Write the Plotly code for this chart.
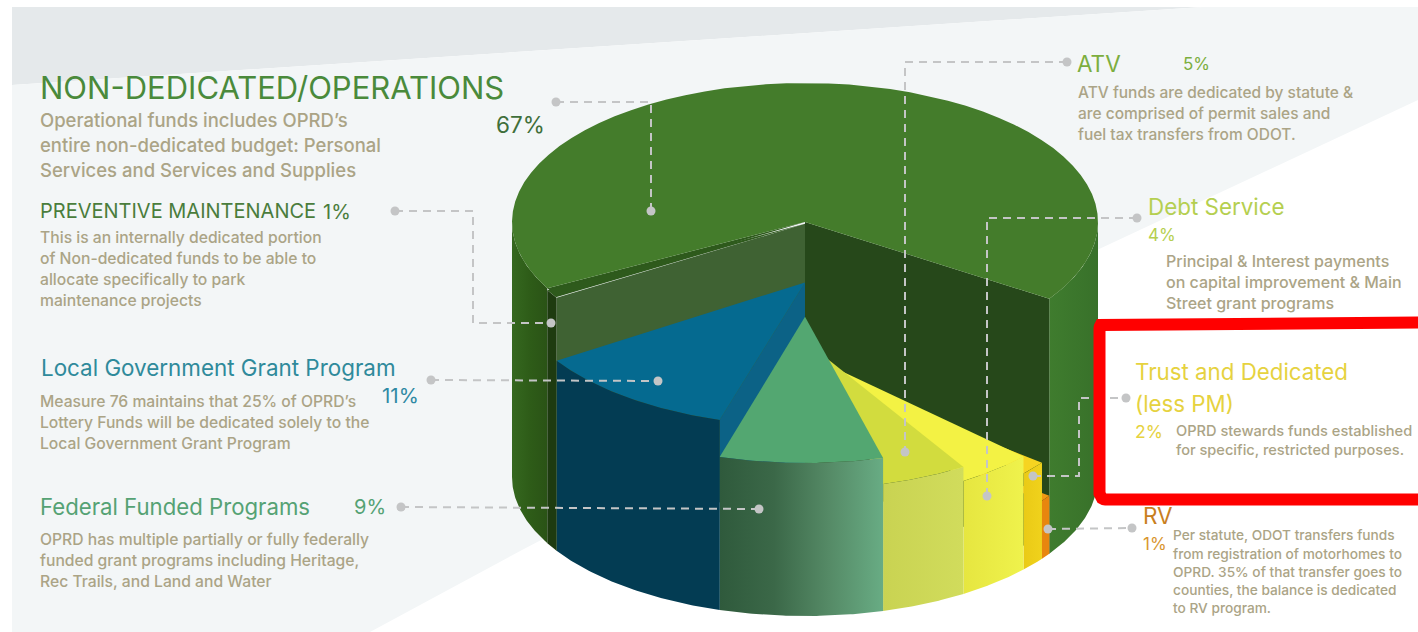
import numpy as np
import plotly.graph_objects as go

# ---- data ----
slice_names = ["RV", "Trust and Dedicated", "Debt Service", "ATV", "Federal Funded Programs",
               "Local Government Grant Program", "Preventive Maintenance", "Non-Dedicated/Operations"]
slice_shares = [0.7, 1.6, 4.3, 4.8, 9.0, 11.4, 1.0, 67.2]
slice_drops = [197, 159, 142, 128, 102, 65, 2, 0]
top_colors = ["#f29a14", "#f6d421", "#f3f244", "#d2dc3e", "#53a771", "#056a90", "#2e5a1c", "#447c2b"]
front_colors = [("#e8860e", "#e8860e"), ("#f0d21c", "#eaca16"), ("#eff24c", "#e6e640"),
                ("#d1dc5c", "#c9d352"), ("#2f5a3c", "#68ac84"), ("#033c53", "#033c53"),
                ("#1e3b10", "#1e3b10"), ("#447c2b", "#447c2b")]

FONT = "Inter"
BODY = "#aba486"
B1, B2, B3, B4 = 15.7, 15.5, 16.0, 14.6
B5 = 13.7
# (text, x, y, size, colour)
labels = [
    ("NON-DEDICATED/OPERATIONS", 40, 87, 31, "#4a8a3b"),
    ("Operational funds includes OPRD’s", 40, 120, 18.5, BODY),
    ("entire non-dedicated budget: Personal", 40, 145, 18.5, BODY),
    ("Services and Services and Supplies", 40, 170, 18.5, BODY),
    ("67%", 496, 124, 22.5, "#3f6f3a"),
    ("PREVENTIVE MAINTENANCE", 40, 211, 20, "#4a7d3c"),
    ("1%", 323, 212, 20, "#4a7d3c"),
    ("This is an internally dedicated portion", 40, 237, B1, BODY),
    ("of Non-dedicated funds to be able to", 40, 258, B1, BODY),
    ("allocate specifically to park", 40, 279, B1, BODY),
    ("maintenance projects", 40, 300, B1, BODY),
    ("Local Government Grant Program", 41, 367, 22.4, "#2f8a9b"),
    ("11%", 382, 395, 20.5, "#2f89a3"),
    ("Measure 76 maintains that 25% of OPRD’s", 40, 401, B1, BODY),
    ("Lottery Funds will be dedicated solely to the", 40, 422, B1, BODY),
    ("Local Government Grant Program", 40, 443, B1, BODY),
    ("Federal Funded Programs", 40, 506, 22.2, "#55a274"),
    ("9%", 354, 507, 20, "#55a274"),
    ("OPRD has multiple partially or fully federally", 40, 539, B1, BODY),
    ("funded grant programs including Heritage,", 40, 560, B1, BODY),
    ("Rec Trails, and Land and Water", 40, 581, B1, BODY),
    ("ATV", 1077, 63, 22.5, "#7cae3e"),
    ("5%", 1183, 64, 17, "#7cae3e"),
    ("ATV funds are dedicated by statute &", 1078, 92, B2, BODY),
    ("are comprised of permit sales and", 1078, 113, B2, BODY),
    ("fuel tax transfers from ODOT.", 1078, 134, B2, BODY),
    ("Debt Service", 1148, 206, 22.4, "#b5cf50"),
    ("4%", 1148, 235, 17, "#b5cf50"),
    ("Principal & Interest payments", 1166, 261, B3, BODY),
    ("on capital improvement & Main", 1166, 282, B3, BODY),
    ("Street grant programs", 1166, 303, B3, BODY),
    ("Trust and Dedicated", 1135, 371, 22.3, "#e6d23f"),
    ("(less PM)", 1135, 403, 22.3, "#e6d23f"),
    ("2%", 1135, 431, 17.5, "#e6d23f"),
    ("OPRD stewards funds established", 1176, 431, B4, BODY),
    ("for specific, restricted purposes.", 1176, 450, B4, BODY),
    ("RV", 1143, 515, 22.5, "#c9801f"),
    ("1%", 1143, 544, 17, "#d9962f"),
    ("Per statute, ODOT transfers funds", 1173, 535, B5, BODY),
    ("from registration of motorhomes to", 1173, 554, B5, BODY),
    ("OPRD. 35% of that transfer goes to", 1173, 572, B5, BODY),
    ("counties, the balance is dedicated", 1173, 590, B5, BODY),
    ("to RV program.", 1173, 608, B5, BODY),
]

# dashed leader lines (x list, y list)
leaders = [
    ([556, 651, 651], [102, 102, 211]),
    ([395, 473, 473, 551], [211, 211, 323, 323]),
    ([431, 658], [380, 381]),
    ([401, 759], [507, 509]),
    ([1067, 905, 905], [62, 62, 452]),
    ([1137, 987, 987], [218, 218, 496]),
    ([1033, 1079, 1079, 1090], [476, 476, 398, 398]),
    ([1110, 1126], [398, 398]),
    ([1048, 1132], [529, 528]),
]
leader_dots_x = [556, 651, 395, 551, 431, 658, 401, 759, 1067, 905, 1137, 987, 1033, 1126, 1048, 1132]
leader_dots_y = [102, 211, 211, 323, 380, 381, 507, 509, 62, 452, 218, 496, 476, 398, 529, 528]

# ---- cylinder geometry ----
CX, CY, RX, RY, H = 805, 222, 293, 139, 255
START = 33.5
APEX_K = 0.93


def arc(a0, a1, drop, n=60):
    t = np.radians(np.linspace(a0, a1, n))
    return CX + RX * np.cos(t), CY + RY * np.sin(t) + drop


def apex(drop):
    return np.array([CX]), np.array([CY + APEX_K * drop])


def poly(fig, xs, ys, color=None, grad=None, name=""):
    kw = dict(x=np.round(xs, 2).tolist(), y=np.round(ys, 2).tolist(), mode="lines", fill="toself",
              hoverinfo="skip", showlegend=False, name=name, line=dict(width=0))
    if grad:
        kw["fillgradient"] = dict(type="horizontal", colorscale=[[i / (len(grad) - 1), c] for i, c in enumerate(grad)])
    else:
        kw["fillcolor"] = color
    fig.add_trace(go.Scatter(**kw))


def band(fig, a0, a1, d0, d1, **kw):
    x0, y0 = arc(a0, a1, d0)
    x1, y1 = arc(a1, a0, d1)
    poly(fig, np.r_[x0, x1], np.r_[y0, y1], **kw)


def wedge_top(fig, a0, a1, d, color, name=""):
    ax, ay = apex(d)
    x, y = arc(a0, a1, d)
    poly(fig, np.r_[ax, x], np.r_[ay, y], color=color, name=name)


def wall(fig, a, d, color, name=""):
    ax, ay = apex(d)
    x, y = arc(a, a, d, n=1)
    poly(fig, np.r_[ax, x, x, ax], np.r_[ay, y, CY + RY * np.sin(np.radians(a)) + H, CY + H], color=color, name=name)


edges = START + np.cumsum(np.r_[0, np.array(slice_shares) * 3.6])

fig = go.Figure()

# back body: outer sides of the large slice and the two inner walls
big_end = edges[7]
band(fig, big_end, 180, 0, H, grad=["#35681f", "#2e5c18", "#2a5316"], name="left side")
band(fig, 0, edges[0], 0, H, grad=["#3f7c2e", "#38712a"], name="right side")
wall(fig, edges[6], slice_drops[6], "#3f6233", "pm wall")
wall(fig, edges[0], 0, "#26481a", "right wall")

# lower slices, back to front
for i in range(5):
    if i == 4:
        wall(fig, edges[5], slice_drops[5], "#0c6286", "local wall")
    wedge_top(fig, edges[i], edges[i + 1], slice_drops[i], top_colors[i], slice_names[i])
    band(fig, edges[i], edges[i + 1], slice_drops[i], H, grad=list(front_colors[i][::-1]) if i < 4 else
         ["#2f5a3c", "#3b6848", "#558a66", "#68ac84"], name=slice_names[i])

for i in (5, 6):
    if i == 6:
        wedge_top(fig, edges[i], edges[i + 1], 0, top_colors[i], slice_names[i])
    wedge_top(fig, edges[i], edges[i + 1], slice_drops[i], top_colors[i], slice_names[i])
    band(fig, edges[i], edges[i + 1], slice_drops[i], H, color=front_colors[i][0], name=slice_names[i])

wedge_top(fig, edges[7], START + 360, 0, top_colors[7], slice_names[7])

# highlight box with rounded outer corners
box_l, box_t, box_b, box_r, box_rad = 1099.5, 322.5, 499.5, 1430, 6
c1 = np.radians(np.linspace(270, 180, 6))
c2 = np.radians(np.linspace(180, 90, 6))
box_x = np.r_[box_r, box_l + box_rad + box_rad * np.cos(c1), box_l + box_rad + box_rad * np.cos(c2), box_r]
box_y = np.r_[box_t, box_t + box_rad + box_rad * np.sin(c1), box_b - box_rad + box_rad * np.sin(c2), box_b]
fig.add_trace(go.Scatter(x=box_x.tolist(), y=box_y.tolist(), mode="lines", fill="toself",
                         fillcolor="#ffffff", line=dict(color="#ff0000", width=12), hoverinfo="skip", showlegend=False))

# leaders
for lx, ly in leaders:
    fig.add_trace(go.Scatter(x=lx, y=ly, mode="lines", hoverinfo="skip", showlegend=False,
                             line=dict(color="#c4c5c6", width=2, dash="8px,6px")))
fig.add_trace(go.Scatter(x=leader_dots_x, y=leader_dots_y, mode="markers", hoverinfo="skip", showlegend=False,
                         marker=dict(color="#c4c5c6", size=9)))

for t, x, y, s, c in labels:
    fig.add_annotation(x=x, y=y, text=t, showarrow=False, xanchor="left", yanchor="middle", xshift=-1,
                       font=dict(family=FONT, size=s, color=c, weight=500 if c == BODY else 400), borderpad=0)

fig.update_layout(
    width=1418, height=632, margin=dict(l=0, r=0, t=0, b=0),
    paper_bgcolor="#ffffff", plot_bgcolor="#ffffff", showlegend=False,
    xaxis=dict(range=[0, 1418], visible=False, fixedrange=True),
    yaxis=dict(range=[632, 0], visible=False, fixedrange=True),
    shapes=[
        dict(type="path", path="M12,7 L1203,7 L12,85 Z", fillcolor="#e5e9eb", line_width=0, layer="below"),
        dict(type="path", path="M12,85 L1203,7 L1418,7 L1418,100 L1097,250 L522,550 L370,632 L12,632 Z",
             fillcolor="#f3f6f7", line_width=0, layer="below"),
    ],
)
fig.write_html("out.html", config={"displayModeBar": False}, post_script="document.body.style.margin='0';")
